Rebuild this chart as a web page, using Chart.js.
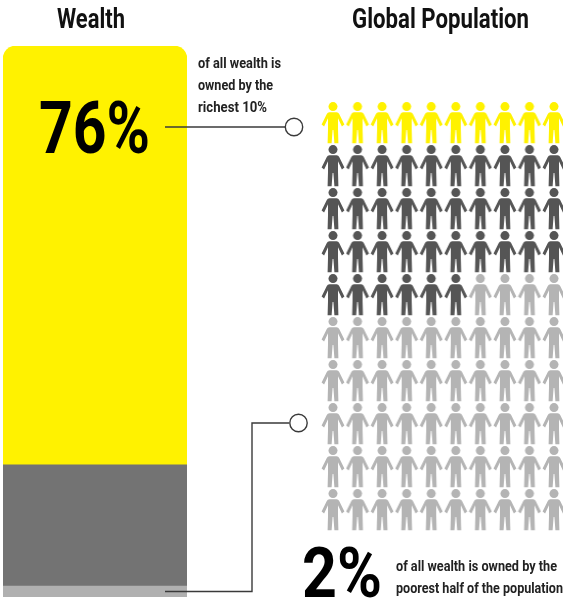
<!DOCTYPE html>
<html><head><meta charset="utf-8">
<script src="https://cdn.jsdelivr.net/npm/chart.js@4"></script>
<style>
html,body{margin:0;padding:0;background:#fff;width:563px;height:599px;overflow:hidden}
canvas{position:absolute;left:0;top:0;filter:blur(0.45px)}
</style></head><body>
<canvas id="wealth" width="563" height="599"></canvas>
<canvas id="people" width="563" height="599"></canvas>
<script>
const wealthLabels = ['Wealth'];
const poorestShare = [2];
const middleShare = [22];
const richestShare = [76];
const populationGroups = ['Richest 10%', 'Middle', 'Poorest half'];
const populationCounts = [10, 36, 54];
const populationColors = ['#FFF200', '#555555', '#B4B4B4'];
const gridColumns = [1,2,3,4,5,6,7,8,9,10];
const gridRows = [1,2,3,4,5,6,7,8,9,10];

const FONT = 'Roboto,"Liberation Sans",sans-serif';

function personIcon(color){
  const c = document.createElement('canvas');
  c.width = 24; c.height = 42;
  const g = c.getContext('2d');
  g.fillStyle = color;
  g.beginPath(); g.arc(12,4.6,4.5,0,Math.PI*2); g.fill();
  g.beginPath();
  g.moveTo(8.4,10.3); g.lineTo(15.6,10.3);
  g.quadraticCurveTo(17.4,10.5,18.2,12);
  g.lineTo(23.4,22.6); g.lineTo(20.9,24.6); g.lineTo(17,16.2);
  g.lineTo(17,27); g.lineTo(17.4,41.2); g.lineTo(13.4,41.2); g.lineTo(12.4,28); g.lineTo(11.6,28);
  g.lineTo(10.6,41.2); g.lineTo(6.6,41.2); g.lineTo(7,27); g.lineTo(7,16.2);
  g.lineTo(3.1,24.6); g.lineTo(0.6,22.6); g.lineTo(5.8,12);
  g.quadraticCurveTo(6.6,10.5,8.4,10.3);
  g.closePath(); g.fill();
  return c;
}

const calloutPlugin = {
  id:'callouts',
  afterDraw(chart){
    const {ctx, scales:{y}} = chart;
    ctx.save();
    ctx.strokeStyle = '#3a3a3a'; ctx.lineWidth = 1.4;
    ctx.beginPath(); ctx.moveTo(165,127); ctx.lineTo(285,127); ctx.stroke();
    const py = Math.round(y.getPixelForValue(poorestShare[0]/2))+0.5;
    ctx.beginPath(); ctx.moveTo(165,py); ctx.lineTo(252,py); ctx.lineTo(252,423); ctx.lineTo(289,423); ctx.stroke();
    ctx.fillStyle = '#fff';
    [[294,127],[298.5,423]].forEach(([cx,cy])=>{ ctx.beginPath(); ctx.arc(cx,cy,8.7,0,Math.PI*2); ctx.fill(); ctx.stroke(); });
    ctx.textBaseline = 'alphabetic'; ctx.textAlign = 'left';
    const texts = [
      ['Wealth',57,125,28,27,'#111'],['Global Population',352,529,28,27,'#111'],
      [richestShare[0]+'%',39,150,153,72,'#000'],[poorestShare[0]+'%',302,382,597,70,'#000'],
      ['of all wealth is',198,281,68,14,'#222'],['owned by the',198,273,90,14,'#222'],['richest 10%',198,267,112,14,'#222'],
      ['of all wealth is owned by the',396,557,571,14,'#222'],['poorest half of the population',396,563,593,14,'#222']
    ];
    texts.forEach(([t,x0,x1,b,s,col])=>{
      ctx.font = 'bold '+s+'px '+FONT; ctx.fillStyle = col;
      ctx.save(); ctx.translate(x0,b); ctx.scale((x1-x0)/ctx.measureText(t).width,1); ctx.fillText(t,0,0); ctx.restore();
    });
    ctx.restore();
  }
};

new Chart(document.getElementById('wealth'),{
  type:'bar',
  data:{labels:wealthLabels,datasets:[
    {label:'Poorest half',data:poorestShare,backgroundColor:'#B0B0B0',borderSkipped:false},
    {label:'Middle 40%',data:middleShare,backgroundColor:'#737373',borderSkipped:false},
    {label:'Richest 10%',data:richestShare,backgroundColor:'#FFF200',borderSkipped:false,
     borderRadius:{topLeft:13,topRight:13,bottomLeft:0,bottomRight:0}}
  ]},
  options:{responsive:false,animation:false,
    layout:{padding:{left:3,right:376,top:46,bottom:2}},
    datasets:{bar:{barPercentage:1,categoryPercentage:1}},
    plugins:{legend:{display:false},tooltip:{enabled:false},title:{display:false}},
    scales:{x:{stacked:true,display:false},y:{stacked:true,display:false,min:0,max:100}}
  },
  plugins:[calloutPlugin]
});

const datasets = [];
let seen = 0;
populationGroups.forEach((name,i)=>{
  const pts = [];
  for(let k=0;k<populationCounts[i];k++,seen++){
    pts.push({x:gridColumns[seen%gridColumns.length],y:gridRows[Math.floor(seen/gridColumns.length)]});
  }
  datasets.push({label:name,data:pts,pointStyle:personIcon(populationColors[i]),clip:false,showLine:false});
});
new Chart(document.getElementById('people'),{
  type:'scatter',
  data:{datasets},
  options:{responsive:false,animation:false,
    layout:{padding:{left:333,right:9,top:123,bottom:89}},
    plugins:{legend:{display:false},tooltip:{enabled:false}},
    scales:{x:{display:false,min:1,max:10},y:{display:false,min:1,max:10,reverse:true}}
  }
});
</script>
</body></html>
